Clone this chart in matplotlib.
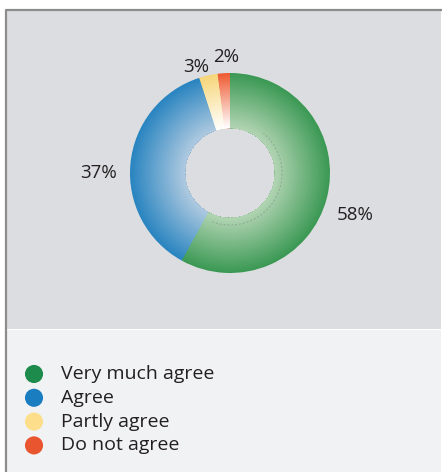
import numpy as np
import matplotlib.pyplot as plt
from matplotlib.patches import Rectangle, Arc
from matplotlib.colors import to_rgb

# survey answers
categorias = ['Very much agree', 'Agree', 'Partly agree', 'Do not agree']
valores = [58, 37, 3, 2]
etiquetas = ['58%', '37%', '3%', '2%']

# colores: leyenda, borde exterior y borde interior del anillo
col_leyenda = ['#1d8b4b', '#1a7dbf', '#fddf8b', '#e9552f']
col_fuera = ['#3a9853', '#2884c0', '#f6d678', '#ee5a31']
col_dentro = ['#b2d4b3', '#afcae0', '#ffffff', '#ffffff']

W, H = 442, 472
plt.rcParams['font.family'] = ['Open Sans', 'DejaVu Sans']

fig = plt.figure(figsize=(W / 100, H / 100), dpi=100)
ax = fig.add_axes([0, 0, 1, 1])

# paneles de fondo
ax.add_patch(Rectangle((6, H - 329), W - 7, 319, fc='#dcdde0', ec='none'))
ax.add_patch(Rectangle((6, 0), W - 7, H - 330, fc='#f1f2f4', ec='none'))
ax.plot([6, 6, W - 1], [0, H - 10, H - 10], color='#8c8c8c', lw=1.6)

# anillo con degradado: se pinta de fuera hacia dentro, cada capa tapa a la anterior
cx, cy = 230, H - 173
r_in, r_out = 45, 100
n = 60
orden = [3, 2, 1, 0]  # rojo, amarillo, azul, verde en sentido antihorario desde arriba
vals = [valores[i] for i in orden]
for k in range(n, 0, -1):
    t = (k - 0.5) / n
    r = r_in + (r_out - r_in) * k / n
    colores = []
    for i in orden:
        a = np.array(to_rgb(col_dentro[i]))
        b = np.array(to_rgb(col_fuera[i]))
        colores.append(np.clip(a + (b - a) * t, 0, 1))
    ax.pie(vals, colors=colores, startangle=90, counterclock=True,
           radius=r, center=(cx, cy), frame=True,
           wedgeprops=dict(width=r - r_in, edgecolor='none', linewidth=0))

# linea discontinua tenue dentro del verde
ax.add_patch(Arc((cx, cy), 104, 104, theta1=250, theta2=410,
                 color='#555555', lw=0.7, ls=(0, (2, 2)), alpha=0.3))

ax.set_xlim(0, W)
ax.set_ylim(0, H)
ax.set_aspect('auto')
ax.axis('off')

# etiquetas de porcentaje
pos_etiquetas = [(355, 215), (99, 173), (196, 67), (226, 57)]
for txt, (x, y) in zip(etiquetas, pos_etiquetas):
    ax.text(x, H - y, txt, ha='center', va='center', fontsize=13.5,
            color='#231f20')

# leyenda
for j, (nombre, col) in enumerate(zip(categorias, col_leyenda)):
    y = H - (374 + 23.8 * j)
    ax.scatter([34], [y], s=170, color=col, edgecolors='none')
    ax.text(61, y, nombre, ha='left', va='center', fontsize=14,
            color='#231f20')

fig.savefig('out.png', dpi=100)
